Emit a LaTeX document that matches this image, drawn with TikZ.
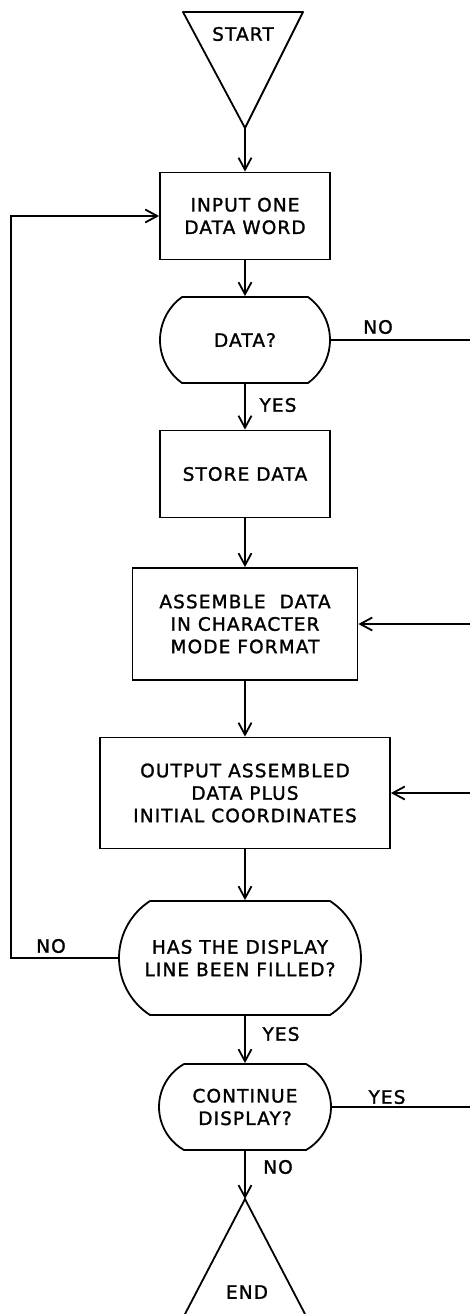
\documentclass[tikz,border=0pt]{standalone}
\usepackage{fontspec}
\setmainfont{DejaVu Sans}[LetterSpace=6,FakeBold=1.4]
\usetikzlibrary{arrows.meta,calc}
\newcommand{\flowbox}[6]{%
  \node[flowbox,minimum width={#4pt},minimum height={#5pt}] (#1) at (#2,#3) {#6};
}
\newcommand{\flowdecision}[7]{%
  \pgfmathsetmacro{\decR}{(#5*#5+#6*#6)/(2*#6)}
  \pgfmathsetmacro{\decA}{asin(#5/\decR)}
  \node[flowtext,minimum width={2*#4pt},minimum height={2*#5pt}] (#1) at (#2,#3) {#7};
  \draw[line join=round] ({#2-#4+#6},{#3-#5}) -- ({#2+#4-#6},{#3-#5})
    arc[start angle=-\decA,end angle=\decA,radius=\decR]
    -- ({#2-#4+#6},{#3+#5})
    arc[start angle=180-\decA,end angle=180+\decA,radius=\decR] -- cycle;
}

\begin{document}
\begin{tikzpicture}[x=1pt,y=-1pt,line width=1.8pt,
    flowtext/.style={inner sep=0pt,align=center,font=\fontsize{18.5}{22.5}\selectfont},
    flowbox/.style={flowtext,draw},
    flow/.style={-{Straight Barb[length=12pt,width=13pt]}}]
  \useasboundingbox (0,0) rectangle (470,1314);
  \draw[line join=round] (183,12) -- (303,12) -- (245,128) -- cycle;
  \coordinate (startTip) at (245,128);
  \node[flowtext] (start) at (243,34) {START};
  \flowbox{input}{245}{216}{170}{87}{INPUT ONE\\DATA WORD}
  \flowdecision{data}{245}{340}{85}{43}{22}{DATA?}
  \flowbox{store}{245}{474}{170}{87}{STORE DATA}
  \flowbox{assemble}{245}{624}{225}{112}{ASSEMBLE\ \ DATA\\IN CHARACTER\\MODE FORMAT}
  \flowbox{output}{245}{793}{290}{111}{OUTPUT ASSEMBLED\\DATA PLUS\\INITIAL COORDINATES}
  \flowdecision{has}{240}{958}{121}{57}{31}{HAS THE DISPLAY\\LINE BEEN FILLED?}
  \flowdecision{continue}{245}{1107}{86}{43}{25}{CONTINUE\\DISPLAY?}
  \coordinate (stopTip) at (245,1199);
  \draw (185,1314) -- (stopTip) -- (305,1314);
  \node[flowtext] (stop) at (247,1292) {END};

  \draw[flow] (startTip) -- (input.north);
  \draw[flow] (input.south) -- (data.north);
  \draw[flow] (data.south) -- (store.north);
  \draw[flow] (store.south) -- (assemble.north);
  \draw[flow] (assemble.south) -- (output.north);
  \draw[flow] (output.south) -- (output.south |- has.north);
  \draw[flow] (continue.north |- has.south) -- (continue.north);
  \draw[flow] (continue.south) -- (stopTip);

  \coordinate (dataExit) at (470,340);
  \coordinate (assembleEntry) at (470,624);
  \coordinate (outputEntry) at (470,793);
  \coordinate (continueExit) at (470,1107);
  \coordinate (loopCorner) at (11,958);
  \draw (data.east) -- (dataExit);
  \draw[flow] (assembleEntry) -- (assemble.east);
  \draw[flow] (outputEntry) -- (output.east);
  \draw (continue.east) -- (continueExit);
  \draw[flow] (has.west) -- (loopCorner) |- (input.west);

  \node[flowtext] (dataNo) at (378,327) {NO};
  \node[flowtext] (dataYes) at (278,405) {YES};
  \node[flowtext] (hasNo) at (51,946) {NO};
  \node[flowtext] (hasYes) at (281,1034) {YES};
  \node[flowtext] (continueYes) at (387,1097) {YES};
  \node[flowtext] (continueNo) at (278,1167) {NO};
\end{tikzpicture}
\end{document}
